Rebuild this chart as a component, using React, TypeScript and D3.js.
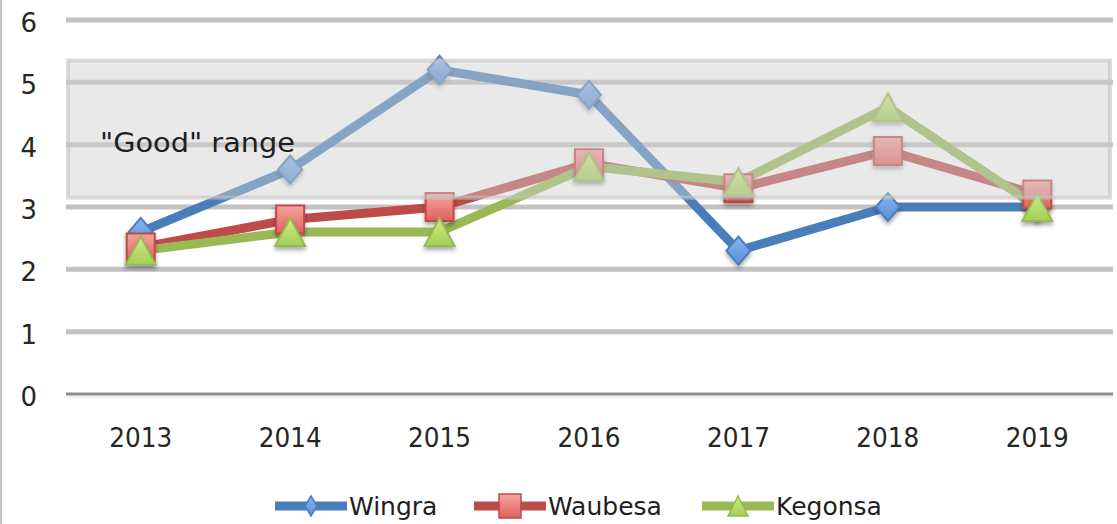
import React from "react";
import * as d3 from "d3";

const years = ["2013", "2014", "2015", "2016", "2017", "2018", "2019"];
const wingra = [2.6, 3.6, 5.2, 4.8, 2.3, 3.0, 3.0];
const waubesa = [2.35, 2.8, 3.0, 3.7, 3.3, 3.9, 3.2];
const kegonsa = [2.3, 2.6, 2.6, 3.65, 3.4, 4.6, 3.0];
const yTicks = [0, 1, 2, 3, 4, 5, 6];
const goodRange = [3.15, 5.35];
const goodLabel = '"Good" range';

const seriesNames = ["Wingra", "Waubesa", "Kegonsa"];
const seriesValues = [wingra, waubesa, kegonsa];
const lineColors = ["#4a7ebb", "#be4b48", "#98b954"];
const gradTop = ["#86b3f2", "#f7a4a1", "#cdec86"];
const gradBot = ["#5b8fd8", "#e0605b", "#a5cf54"];
const shapes = ["diamond", "square", "triangle"];

const W = 1117;
const H = 524;
const FONT = "'DejaVu Sans', Verdana, sans-serif";

function markerPath(shape: string, w: number, h: number) {
  const hw = w / 2, hh = h / 2;
  if (shape === "diamond") return `M0,${-hh}L${hw},0L0,${hh}L${-hw},0Z`;
  if (shape === "square") return `M${-hw},${-hh}H${hw}V${hh}H${-hw}Z`;
  return `M0,${-hh}L${hw},${hh}L${-hw},${hh}Z`;
}

export default function App() {
  const x = d3.scaleBand<string>().domain(years).range([66, 1112]);
  const cx = (yr: string) => (x(yr) as number) + x.bandwidth() / 2;
  const y = d3.scaleLinear().domain([0, 6]).range([394, 20]);
  const line = d3
    .line<number>()
    .x((_, i) => cx(years[i]))
    .y((v) => y(v));

  const mSize: Record<string, [number, number]> = {
    diamond: [24, 28],
    square: [28, 28],
    triangle: [30, 28],
  };
  const legendX = [275, 474, 702];

  return (
    <svg
      width={W}
      height={H}
      style={{ position: "absolute", left: 0, top: 0, background: "#fff" }}
    >
      <defs>
        {seriesNames.map((n, i) => (
          <linearGradient key={n} id={`g${i}`} x1="0" y1="0" x2="0" y2="1">
            <stop offset="0" stopColor={gradTop[i]} />
            <stop offset="1" stopColor={gradBot[i]} />
          </linearGradient>
        ))}
        <filter id="sh" x="-50%" y="-50%" width="200%" height="220%">
          <feDropShadow dx="0" dy="3" stdDeviation="2" floodColor="#000" floodOpacity="0.35" />
        </filter>
      </defs>
      <rect x={0} y={0} width={W} height={H} fill="#fff" />
      <line x1={1} x2={1} y1={0} y2={H} stroke="#c4c4c4" strokeWidth={2} />

      {/* gridlines */}
      {yTicks.map((t) =>
        t === 0 ? null : (
          <line key={t} x1={66} x2={1113} y1={y(t)} y2={y(t)} stroke="#c2c2c2" strokeWidth={5} />
        )
      )}
      <line x1={66} x2={1113} y1={y(0)} y2={y(0)} stroke="#8e8e8e" strokeWidth={3} />
      <line x1={66} x2={1113} y1={y(0) + 3} y2={y(0) + 3} stroke="#f2f2f2" strokeWidth={2} />

      {/* y labels */}
      {yTicks.map((t) => (
        <text
          key={t}
          x={37}
          y={y(t) + 3}
          textAnchor="end"
          dominantBaseline="central"
          fontFamily={FONT}
          fontSize={26}
          fill="#262626"
        >
          {t}
        </text>
      ))}

      {/* x labels */}
      {years.map((yr) => (
        <text
          key={yr}
          x={cx(yr)}
          y={447}
          textAnchor="middle"
          fontFamily={FONT}
          fontSize={26}
          fill="#262626"
          textLength={63}
          lengthAdjust="spacingAndGlyphs"
        >
          {yr}
        </text>
      ))}

      {/* series lines */}
      {seriesValues.map((vals, i) => (
        <path
          key={`l${i}`}
          d={line(vals) || ""}
          fill="none"
          stroke={lineColors[i]}
          strokeWidth={9}
          strokeLinejoin="round"
        />
      ))}
      {/* markers */}
      {seriesValues.map((vals, i) =>
        vals.map((v, j) => {
          const [mw, mh] = mSize[shapes[i]];
          return (
            <path
              key={`m${i}-${j}`}
              transform={`translate(${cx(years[j])},${y(v)})`}
              d={markerPath(shapes[i], mw, mh)}
              fill={`url(#g${i})`}
              stroke={lineColors[i]}
              strokeWidth={2}
              filter="url(#sh)"
            />
          );
        })
      )}

      {/* good range overlay */}
      <rect
        x={68}
        y={y(goodRange[1])}
        width={1110 - 68}
        height={y(goodRange[0]) - y(goodRange[1])}
        fill="#d0d0d0"
        fillOpacity={0.46}
        stroke="#c4c4c4"
        strokeOpacity={0.6}
        strokeWidth={4}
      />
      <text
        x={100}
        y={152}
        fontFamily={FONT}
        fontSize={26}
        fill="#1e1e1e"
        textLength={195}
        lengthAdjust="spacingAndGlyphs"
      >
        {goodLabel}
      </text>

      {/* legend */}
      {seriesNames.map((n, i) => {
        const lx = legendX[i];
        const ly = 506;
        const legSize: Record<string, [number, number]> = {
          diamond: [12, 20],
          square: [22, 24],
          triangle: [20, 20],
        };
        const [mw, mh] = legSize[shapes[i]];
        return (
          <g key={n}>
            <line x1={lx} x2={lx + 72} y1={ly} y2={ly} stroke={lineColors[i]} strokeWidth={9} />
            <path
              transform={`translate(${lx + 36},${ly})`}
              d={markerPath(shapes[i], mw, mh)}
              fill={`url(#g${i})`}
              stroke={lineColors[i]}
              strokeWidth={1.5}
            />
            <text x={lx + 74} y={515} fontFamily={FONT} fontSize={25} fill="#1e1e1e">
              {n}
            </text>
          </g>
        );
      })}
    </svg>
  );
}
